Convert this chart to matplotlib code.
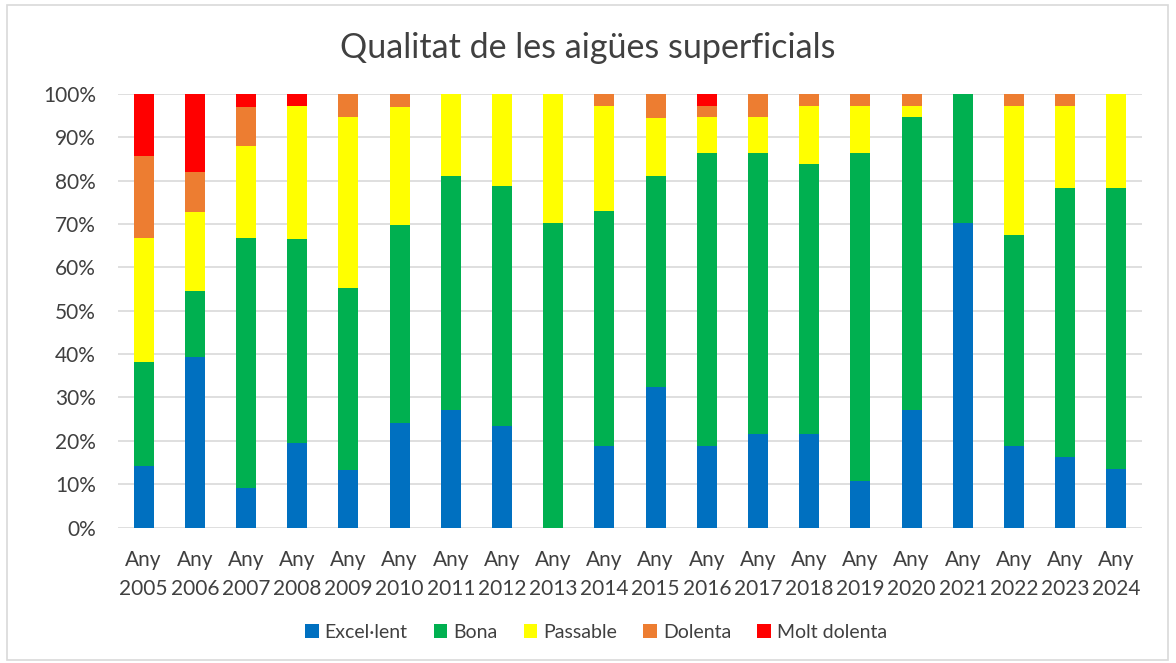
import matplotlib
matplotlib.use("Agg")
import matplotlib.pyplot as plt
import numpy as np
from matplotlib.patches import Rectangle
from matplotlib.ticker import PercentFormatter

plt.rcParams['font.family'] = ['Lato', 'DejaVu Sans']

years = list(range(2005, 2025))
labels = [f"Any\n{y}" for y in years]

excellent = [14.3, 39.4, 9.1, 19.4, 13.2, 24.2, 27.0, 23.5, 0.0, 18.9,
             32.4, 18.9, 21.6, 21.6, 10.8, 27.0, 70.3, 18.9, 16.2, 13.5]
bona = [23.8, 15.2, 57.6, 47.2, 42.1, 45.5, 54.1, 55.3, 70.3, 54.1,
        48.6, 67.6, 64.9, 62.2, 75.7, 67.6, 29.7, 48.6, 62.2, 64.9]
passable = [28.6, 18.2, 21.2, 30.6, 39.5, 27.3, 18.9, 21.2, 29.7, 24.3,
            13.5, 8.1, 8.1, 13.5, 10.8, 2.7, 0.0, 29.7, 18.9, 21.6]
dolenta = [19.0, 9.1, 9.1, 0.0, 5.3, 3.0, 0.0, 0.0, 0.0, 2.7,
           5.4, 2.7, 5.4, 2.7, 2.7, 2.7, 0.0, 2.7, 2.7, 0.0]
molt_dolenta = [14.3, 18.2, 3.0, 2.8, 0.0, 0.0, 0.0, 0.0, 0.0, 0.0,
                0.0, 2.7, 0.0, 0.0, 0.0, 0.0, 0.0, 0.0, 0.0, 0.0]

series = [("Excel·lent", excellent, "#0070C0"),
          ("Bona", bona, "#00B050"),
          ("Passable", passable, "#FFFF00"),
          ("Dolenta", dolenta, "#ED7D31"),
          ("Molt dolenta", molt_dolenta, "#FF0000")]

W, H = 1176, 663
fig = plt.figure(figsize=(W / 100, H / 100), dpi=100)
ax = fig.add_axes([118 / W, 1 - 527.5 / H, (1142 - 118) / W, (527.5 - 94) / H])

x = np.arange(len(years))
bottom = np.zeros(len(years))
handles = []
for name, vals, col in series:
    v = np.array(vals, dtype=float)
    h = ax.bar(x, v, 0.39, bottom=bottom, color=col, label=name, zorder=3)
    handles.append(h)
    bottom += v

ax.set_xlim(-0.5, len(years) - 0.5)
ax.set_ylim(0, 100)
ax.set_yticks(np.arange(0, 101, 10))
ax.yaxis.set_major_formatter(PercentFormatter(decimals=0))
ax.set_xticks(x)
ax.set_xticklabels(labels, fontsize=15, color="#404040", linespacing=1.55)
ax.tick_params(axis='y', labelsize=15, labelcolor="#404040", length=0, pad=16)
ax.tick_params(axis='x', length=0, pad=16)
ax.grid(axis='y', color="#D9D9D9", linewidth=1.2, zorder=0)
for s in ax.spines.values():
    s.set_visible(False)

fig.text(0.5, 1 - 48 / H, "Qualitat de les aigües superficials", ha='center', va='center',
         fontsize=24.5, color="#404040")

fig.legend(handles=handles, loc='center', bbox_to_anchor=(596 / W, 1 - 632 / H), ncol=5,
           frameon=False, fontsize=14, handlelength=0.7, handleheight=0.7,
           handletextpad=0.3, columnspacing=1.35, labelcolor="#404040")

fig.patches.append(Rectangle((7 / W, 3 / H), (1168 - 7) / W, (658 - 3) / H, transform=fig.transFigure,
                             fill=False, edgecolor="#D9D9D9", linewidth=1.2))

fig.savefig("out.png", dpi=100, facecolor="white")
